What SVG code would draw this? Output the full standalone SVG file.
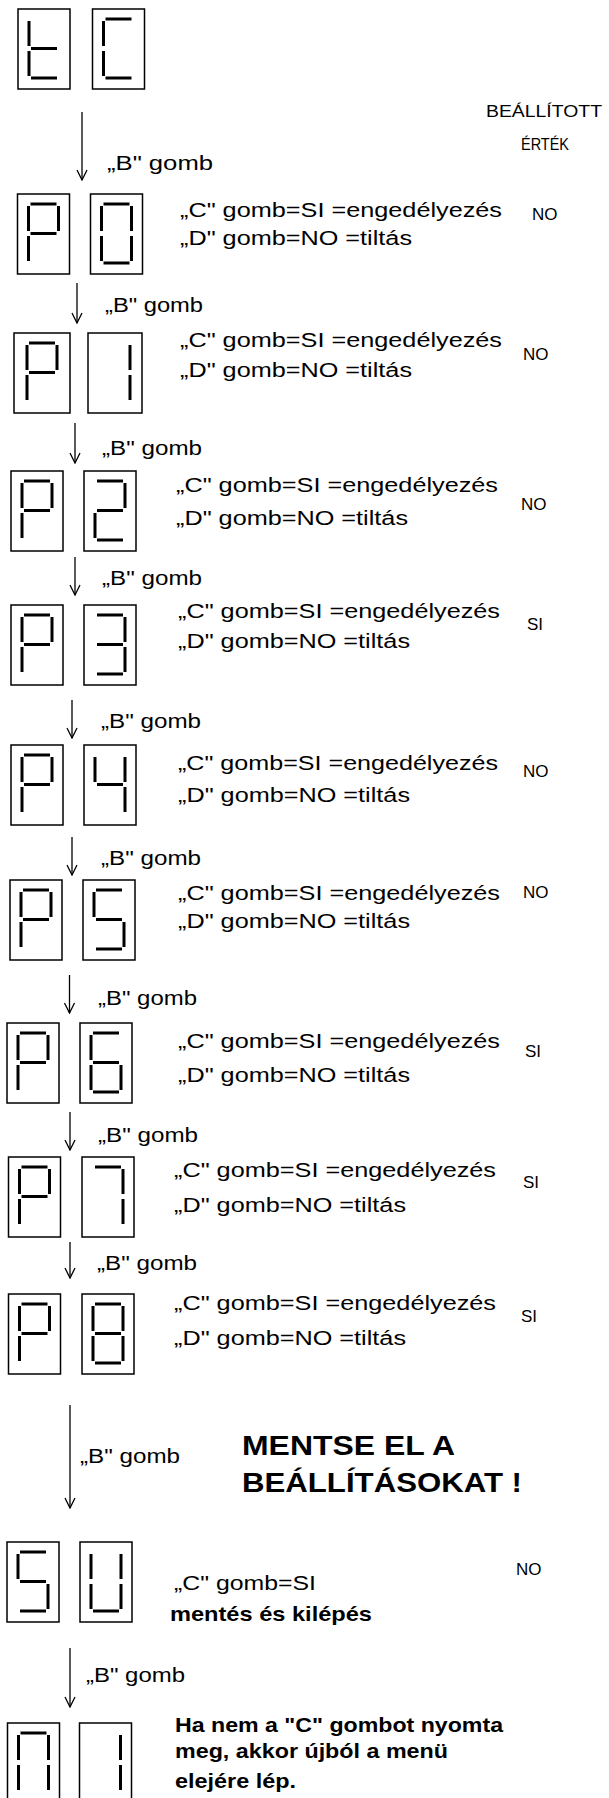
<svg xmlns="http://www.w3.org/2000/svg" xmlns:xlink="http://www.w3.org/1999/xlink" width="609" height="1798" viewBox="0 0 609 1798">
<style>
.box{fill:none;stroke:#000;stroke-width:1.5}
.seg{stroke:#000;stroke-width:3;fill:none}
.t{font-family:"Liberation Sans",Arial,sans-serif;font-size:20px;fill:#000}
.s{font-family:"Liberation Sans",Arial,sans-serif;font-size:17px;fill:#000}
.bt{font-family:"Liberation Sans",Arial,sans-serif;font-weight:bold;font-size:21px;fill:#000}
.big{font-family:"Liberation Sans",Arial,sans-serif;font-weight:bold;font-size:28px;fill:#000}
.ar{stroke:#000;stroke-width:1.3;fill:none}
</style>
<defs>
<marker id="ah" viewBox="-1 -6 12 12" refX="10" refY="0" markerWidth="12" markerHeight="12" markerUnits="userSpaceOnUse" orient="auto">
<path d="M0,-5 L10,0 L0,5" fill="none" stroke="#000" stroke-width="1.3"/>
</marker>
<path id="sa" class="seg" d="M13,10 H39"/>
<path id="sb" class="seg" d="M41,12 V37"/>
<path id="sc" class="seg" d="M41,42 V67"/>
<path id="sd" class="seg" d="M13,69 H39"/>
<path id="se" class="seg" d="M11,42 V67"/>
<path id="sf" class="seg" d="M11,12 V37"/>
<path id="sg" class="seg" d="M13,39.5 H39"/>
<g id="dt"><use href="#sf"/><use href="#se"/><use href="#sg"/><use href="#sd"/></g>
<g id="dC"><use href="#sa"/><use href="#sf"/><use href="#se"/><use href="#sd"/></g>
<g id="dP"><use href="#sa"/><use href="#sb"/><use href="#sf"/><use href="#sg"/><use href="#se"/></g>
<g id="d0"><use href="#sa"/><use href="#sb"/><use href="#sc"/><use href="#sd"/><use href="#se"/><use href="#sf"/></g>
<g id="d1"><use href="#sb"/><use href="#sc"/></g>
<g id="d2"><use href="#sa"/><use href="#sb"/><use href="#sg"/><use href="#se"/><use href="#sd"/></g>
<g id="d3"><use href="#sa"/><use href="#sb"/><use href="#sg"/><use href="#sc"/><use href="#sd"/></g>
<g id="d4"><use href="#sf"/><use href="#sb"/><use href="#sg"/><use href="#sc"/></g>
<g id="d5"><use href="#sa"/><use href="#sf"/><use href="#sg"/><use href="#sc"/><use href="#sd"/></g>
<g id="d6"><use href="#sa"/><use href="#sf"/><use href="#sg"/><use href="#se"/><use href="#sc"/><use href="#sd"/></g>
<g id="d7"><use href="#sa"/><use href="#sb"/><use href="#sc"/></g>
<g id="d8"><use href="#sa"/><use href="#sb"/><use href="#sc"/><use href="#sd"/><use href="#se"/><use href="#sf"/><use href="#sg"/></g>
<g id="dU"><use href="#sf"/><use href="#se"/><use href="#sd"/><use href="#sc"/><use href="#sb"/></g>
<g id="dn"><use href="#sa"/><use href="#sf"/><use href="#se"/><use href="#sb"/><use href="#sc"/></g>
</defs>
<rect width="609" height="1798" fill="#fff"/>

<g id="header">
<text class="s" x="486" y="117" textLength="116" lengthAdjust="spacingAndGlyphs">BEÁLLÍTOTT</text>
<text class="s" x="521" y="150" textLength="48" lengthAdjust="spacingAndGlyphs">ÉRTÉK</text>
</g>

<g id="node-tC">
<rect class="box" x="18" y="9" width="52" height="80"/><use href="#dt" x="18" y="9"/>
<rect class="box" x="92.5" y="9" width="52" height="80"/><use href="#dC" x="92.5" y="9"/>
</g>

<g id="node-P0">
<rect class="box" x="17.5" y="194" width="52" height="80"/><use href="#dP" x="17.5" y="194"/>
<rect class="box" x="90.5" y="194" width="52" height="80"/><use href="#d0" x="90.5" y="194"/>
<text class="t" x="180" y="217" textLength="322" lengthAdjust="spacingAndGlyphs">„C" gomb=SI =engedélyezés</text>
<text class="t" x="180" y="245" textLength="232" lengthAdjust="spacingAndGlyphs">„D" gomb=NO =tiltás</text>
<text class="s" x="532" y="220">NO</text>
</g>

<g id="node-P1">
<rect class="box" x="14" y="333" width="56" height="80"/><use href="#dP" x="16" y="333"/>
<rect class="box" x="88" y="333" width="54" height="80"/><use href="#d1" x="89" y="333"/>
<text class="t" x="180" y="347" textLength="322" lengthAdjust="spacingAndGlyphs">„C" gomb=SI =engedélyezés</text>
<text class="t" x="180" y="377" textLength="232" lengthAdjust="spacingAndGlyphs">„D" gomb=NO =tiltás</text>
<text class="s" x="523" y="360">NO</text>
</g>

<g id="node-P2">
<rect class="box" x="11" y="471" width="52" height="80"/><use href="#dP" x="11" y="471"/>
<rect class="box" x="84" y="471" width="52" height="80"/><use href="#d2" x="84" y="471"/>
<text class="t" x="176" y="492" textLength="322" lengthAdjust="spacingAndGlyphs">„C" gomb=SI =engedélyezés</text>
<text class="t" x="176" y="525" textLength="232" lengthAdjust="spacingAndGlyphs">„D" gomb=NO =tiltás</text>
<text class="s" x="521" y="510">NO</text>
</g>

<g id="node-P3">
<rect class="box" x="11" y="605" width="52" height="80"/><use href="#dP" x="11" y="605"/>
<rect class="box" x="84" y="605" width="52" height="80"/><use href="#d3" x="84" y="605"/>
<text class="t" x="178" y="618" textLength="322" lengthAdjust="spacingAndGlyphs">„C" gomb=SI =engedélyezés</text>
<text class="t" x="178" y="648" textLength="232" lengthAdjust="spacingAndGlyphs">„D" gomb=NO =tiltás</text>
<text class="s" x="527" y="630">SI</text>
</g>

<g id="node-P4">
<rect class="box" x="11" y="745" width="52" height="80"/><use href="#dP" x="11" y="745"/>
<rect class="box" x="84" y="745" width="52" height="80"/><use href="#d4" x="84" y="745"/>
<text class="t" x="178" y="770" textLength="320" lengthAdjust="spacingAndGlyphs">„C" gomb=SI =engedélyezés</text>
<text class="t" x="178" y="802" textLength="232" lengthAdjust="spacingAndGlyphs">„D" gomb=NO =tiltás</text>
<text class="s" x="523" y="777">NO</text>
</g>

<g id="node-P5">
<rect class="box" x="10" y="880" width="52" height="80"/><use href="#dP" x="10" y="880"/>
<rect class="box" x="83" y="880" width="52" height="80"/><use href="#d5" x="83" y="880"/>
<text class="t" x="178" y="900" textLength="322" lengthAdjust="spacingAndGlyphs">„C" gomb=SI =engedélyezés</text>
<text class="t" x="178" y="928" textLength="232" lengthAdjust="spacingAndGlyphs">„D" gomb=NO =tiltás</text>
<text class="s" x="523" y="898">NO</text>
</g>

<g id="node-P6">
<rect class="box" x="7" y="1023" width="52" height="80"/><use href="#dP" x="7" y="1023"/>
<rect class="box" x="80" y="1023" width="52" height="80"/><use href="#d6" x="80" y="1023"/>
<text class="t" x="178" y="1048" textLength="322" lengthAdjust="spacingAndGlyphs">„C" gomb=SI =engedélyezés</text>
<text class="t" x="178" y="1082" textLength="232" lengthAdjust="spacingAndGlyphs">„D" gomb=NO =tiltás</text>
<text class="s" x="525" y="1057">SI</text>
</g>

<g id="node-P7">
<rect class="box" x="8.5" y="1157" width="52" height="80"/><use href="#dP" x="8.5" y="1157"/>
<rect class="box" x="82" y="1157" width="52" height="80"/><use href="#d7" x="82" y="1157"/>
<text class="t" x="174" y="1177" textLength="322" lengthAdjust="spacingAndGlyphs">„C" gomb=SI =engedélyezés</text>
<text class="t" x="174" y="1212" textLength="232" lengthAdjust="spacingAndGlyphs">„D" gomb=NO =tiltás</text>
<text class="s" x="523" y="1188">SI</text>
</g>

<g id="node-P8">
<rect class="box" x="8.5" y="1294" width="52" height="80"/><use href="#dP" x="8.5" y="1294"/>
<rect class="box" x="82" y="1294" width="52" height="80"/><use href="#d8" x="82" y="1294"/>
<text class="t" x="174" y="1310" textLength="322" lengthAdjust="spacingAndGlyphs">„C" gomb=SI =engedélyezés</text>
<text class="t" x="174" y="1345" textLength="232" lengthAdjust="spacingAndGlyphs">„D" gomb=NO =tiltás</text>
<text class="s" x="521" y="1322">SI</text>
</g>

<g id="note-save">
<text class="big" x="242" y="1455" textLength="213" lengthAdjust="spacingAndGlyphs">MENTSE EL A</text>
<text class="big" x="242" y="1492" textLength="280" lengthAdjust="spacingAndGlyphs">BEÁLLÍTÁSOKAT !</text>
</g>

<g id="node-SU">
<rect class="box" x="7" y="1542" width="52" height="80"/><use href="#d5" x="7" y="1542"/>
<rect class="box" x="80" y="1542" width="52" height="80"/><use href="#dU" x="80" y="1542"/>
<text class="t" x="174" y="1590" textLength="142" lengthAdjust="spacingAndGlyphs">„C" gomb=SI</text>
<text class="bt" x="170" y="1621" textLength="202" lengthAdjust="spacingAndGlyphs">mentés és kilépés</text>
<text class="s" x="516" y="1575">NO</text>
</g>

<g id="node-n1">
<rect class="box" x="7.5" y="1723" width="52" height="80"/><use href="#dn" x="7.5" y="1723"/>
<rect class="box" x="79.5" y="1723" width="52" height="80"/><use href="#d1" x="79.5" y="1723"/>
<text class="bt" x="175" y="1732" textLength="328" lengthAdjust="spacingAndGlyphs">Ha nem a "C" gombot nyomta</text>
<text class="bt" x="175" y="1758" textLength="273" lengthAdjust="spacingAndGlyphs">meg, akkor újból a menü</text>
<text class="bt" x="175" y="1788" textLength="121" lengthAdjust="spacingAndGlyphs">elejére lép.</text>
</g>

<g id="connectors">
<line class="ar" x1="82" y1="112" x2="82" y2="180" marker-end="url(#ah)"/>
<text class="t" x="107" y="170" textLength="106" lengthAdjust="spacingAndGlyphs">„B" gomb</text>
<line class="ar" x1="77" y1="283" x2="77" y2="323" marker-end="url(#ah)"/>
<text class="t" x="105" y="312" textLength="98" lengthAdjust="spacingAndGlyphs">„B" gomb</text>
<line class="ar" x1="75" y1="423" x2="75" y2="463" marker-end="url(#ah)"/>
<text class="t" x="102" y="455" textLength="100" lengthAdjust="spacingAndGlyphs">„B" gomb</text>
<line class="ar" x1="75" y1="557" x2="75" y2="595" marker-end="url(#ah)"/>
<text class="t" x="102" y="585" textLength="100" lengthAdjust="spacingAndGlyphs">„B" gomb</text>
<line class="ar" x1="72" y1="700" x2="72" y2="738" marker-end="url(#ah)"/>
<text class="t" x="101" y="728" textLength="100" lengthAdjust="spacingAndGlyphs">„B" gomb</text>
<line class="ar" x1="72" y1="837" x2="72" y2="875" marker-end="url(#ah)"/>
<text class="t" x="101" y="865" textLength="100" lengthAdjust="spacingAndGlyphs">„B" gomb</text>
<line class="ar" x1="69.5" y1="975" x2="69.5" y2="1013" marker-end="url(#ah)"/>
<text class="t" x="98" y="1005" textLength="99" lengthAdjust="spacingAndGlyphs">„B" gomb</text>
<line class="ar" x1="70" y1="1112" x2="70" y2="1150" marker-end="url(#ah)"/>
<text class="t" x="98" y="1142" textLength="100" lengthAdjust="spacingAndGlyphs">„B" gomb</text>
<line class="ar" x1="70" y1="1242" x2="70" y2="1278" marker-end="url(#ah)"/>
<text class="t" x="97" y="1270" textLength="100" lengthAdjust="spacingAndGlyphs">„B" gomb</text>
<line class="ar" x1="70" y1="1405" x2="70" y2="1508" marker-end="url(#ah)"/>
<text class="t" x="80" y="1463" textLength="100" lengthAdjust="spacingAndGlyphs">„B" gomb</text>
<line class="ar" x1="70" y1="1648" x2="70" y2="1707" marker-end="url(#ah)"/>
<text class="t" x="86" y="1682" textLength="99" lengthAdjust="spacingAndGlyphs">„B" gomb</text>
</g>
</svg>
